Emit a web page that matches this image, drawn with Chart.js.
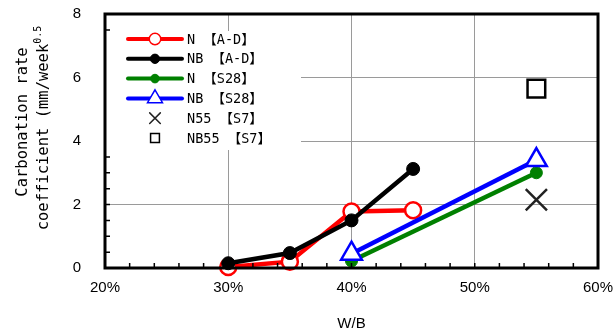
<!DOCTYPE html>
<html>
<head>
<meta charset="utf-8">
<script src="https://cdn.jsdelivr.net/npm/chart.js@4/dist/chart.umd.min.js"></script>
<style>
html, body { margin: 0; padding: 0; background: #fff; }
#wrap { width: 614px; height: 334px; }
</style>
</head>
<body>
<div id="wrap"><canvas id="c" width="614" height="334"></canvas></div>
<script>
// W/B (%) and carbonation rate coefficient values
var wbAD = [30, 35, 40, 45];
var nAD = [0.03, 0.2, 1.78, 1.82];
var nbAD = [0.15, 0.47, 1.5, 3.12];
var wbS28 = [40, 55];
var nS28 = [0.22, 3.0];
var nbS28 = [0.45, 3.4];
var wbS7 = [55];
var n55S7 = [2.15];
var nb55S7 = [5.65];

var xTicks = [20, 30, 40, 50, 60];
var yTicks = [0, 2, 4, 6, 8];

var FONT = '"DejaVu Sans Mono", "Noto Sans CJK JP", monospace';

function pts(xs, ys)
{
    return xs.map(function (x, i) { return { x: x, y: ys[i] }; });
}

function series(label, xs, ys, color, style, radius, fill, line, order)
{
    return {
        label: label,
        data: pts(xs, ys),
        showLine: line,
        borderColor: color,
        borderWidth: 4.5,
        pointStyle: style,
        pointRadius: radius,
        pointHoverRadius: radius,
        pointBorderWidth: fill ? 1 : 2.5,
        pointBorderColor: color,
        pointBackgroundColor: fill ? color : '#fff',
        clip: false,
        order: order
    };
}

var datasets = [
    series('N 【A-D】', wbAD, nAD, '#ff0000', 'circle', 8, false, true, 6),
    series('NB 【A-D】', wbAD, nbAD, '#000000', 'circle', 6.5, true, true, 5),
    series('N 【S28】', wbS28, nS28, '#008000', 'circle', 6, true, true, 4),
    series('NB 【S28】', wbS28, nbS28, '#0000ff', 'triangle', 12, false, true, 3),
    series('N55 【S7】', wbS7, n55S7, '#222222', 'crossRot', 15, false, false, 2),
    series('NB55 【S7】', wbS7, nb55S7, '#000000', 'rect', 12.5, false, false, 1)
];

var frame = {
    id: 'frame',
    afterDatasetsDraw: function (chart)
    {
        var ctx = chart.ctx, a = chart.chartArea;
        var sx = chart.scales.x, sy = chart.scales.y;

        // inward minor ticks
        ctx.save();
        ctx.strokeStyle = '#000';
        ctx.lineWidth = 1.5;
        ctx.beginPath();
        sx.ticks.forEach(function (t)
        {
            var px = sx.getPixelForValue(t.value);
            ctx.moveTo(px, a.bottom);
            ctx.lineTo(px, a.bottom - 5);
        });
        sy.ticks.forEach(function (t)
        {
            var py = sy.getPixelForValue(t.value);
            ctx.moveTo(a.left, py);
            ctx.lineTo(a.left + 5, py);
        });
        ctx.stroke();

        // legend box
        ctx.fillStyle = '#fff';
        ctx.fillRect(a.left + 1, 31, 195, 119);
        ctx.font = '13.5px ' + FONT;
        ctx.textBaseline = 'middle';
        ctx.textAlign = 'left';
        chart.data.datasets.forEach(function (d, i)
        {
            var y = 39 + i * 19.8;
            if (d.showLine)
            {
                ctx.strokeStyle = d.borderColor;
                ctx.lineWidth = 4;
                ctx.lineCap = 'round';
                ctx.beginPath();
                ctx.moveTo(128, y);
                ctx.lineTo(182, y);
                ctx.stroke();
            }
            ctx.fillStyle = d.pointBackgroundColor;
            ctx.strokeStyle = d.pointBorderColor;
            ctx.lineWidth = d.pointBorderWidth > 1 ? 1.5 : 1;
            Chart.helpers.drawPoint(ctx, {
                pointStyle: d.pointStyle,
                radius: d.pointRadius * (d.showLine ? 0.72 : 0.5),
                rotation: 0,
                borderWidth: ctx.lineWidth
            }, 155, y);
            ctx.fillStyle = '#000';
            ctx.fillText(d.label, 187, y + 1);
        });

        // y axis title
        ctx.font = '15.5px ' + FONT;
        ctx.textAlign = 'center';
        ctx.save();
        ctx.translate(23, 122);
        ctx.rotate(-Math.PI / 2);
        ctx.fillText('Carbonation rate', 0, 0);
        ctx.restore();

        var main = 'coefficient (mm/week', sup = '0.5';
        var w1 = ctx.measureText(main).width;
        ctx.font = '10px ' + FONT;
        var w2 = ctx.measureText(sup).width;
        ctx.save();
        ctx.translate(44, 128);
        ctx.rotate(-Math.PI / 2);
        ctx.textAlign = 'left';
        ctx.font = '15.5px ' + FONT;
        ctx.fillText(main, -(w1 + w2) / 2, 0);
        ctx.font = '10px ' + FONT;
        ctx.fillText(sup, -(w1 + w2) / 2 + w1, -6);
        ctx.restore();
        ctx.restore();
    },
    afterDraw: function (chart)
    {
        var ctx = chart.ctx, a = chart.chartArea;
        ctx.save();
        ctx.strokeStyle = '#000';
        ctx.lineWidth = 3;
        ctx.strokeRect(a.left, a.top, a.right - a.left, a.bottom - a.top);
        ctx.restore();
    }
};

new Chart(document.getElementById('c'), {
    type: 'scatter',
    data: { datasets: datasets },
    plugins: [frame],
    options: {
        responsive: false,
        animation: false,
        events: [],
        layout: { autoPadding: false, padding: { top: 14, right: 16, left: 0, bottom: 0 } },
        plugins: { legend: { display: false }, tooltip: { enabled: false } },
        scales: {
            x: {
                type: 'linear',
                min: 20,
                max: 60,
                afterFit: function (s) { s.height = 66; s.paddingLeft = 0; s.paddingRight = 0; },
                afterBuildTicks: function (s)
                {
                    var t = [];
                    for (var v = 20; v <= 60; v += 2) t.push({ value: v });
                    s.ticks = t;
                },
                ticks: {
                    autoSkip: false,
                    maxRotation: 0,
                    padding: 11,
                    color: '#000',
                    font: { size: 15 },
                    callback: function (v) { return xTicks.indexOf(v) >= 0 ? v + '%' : ''; }
                },
                grid: {
                    drawTicks: false,
                    lineWidth: 1,
                    color: function (c)
                    {
                        var v = c.tick && c.tick.value;
                        return v % 10 === 0 && v > 20 && v < 60 ? '#9a9a9a' : 'rgba(0,0,0,0)';
                    }
                },
                border: { display: false },
                title: { display: true, text: 'W/B', color: '#000', font: { size: 15 }, padding: { top: 6, bottom: 1 } }
            },
            y: {
                min: 0,
                max: 8,
                afterFit: function (s) { s.width = 105; s.paddingTop = 0; s.paddingBottom = 0; },
                afterBuildTicks: function (s)
                {
                    var t = [];
                    for (var v = 0; v <= 8; v += 0.5) t.push({ value: v });
                    s.ticks = t;
                },
                ticks: {
                    autoSkip: false,
                    padding: 24,
                    color: '#000',
                    font: { size: 15 },
                    callback: function (v) { return yTicks.indexOf(v) >= 0 ? String(v) : ''; }
                },
                grid: {
                    drawTicks: false,
                    lineWidth: 1,
                    color: function (c)
                    {
                        var v = c.tick && c.tick.value;
                        return v % 2 === 0 && v > 0 && v < 8 ? '#9a9a9a' : 'rgba(0,0,0,0)';
                    }
                },
                border: { display: false }
            }
        }
    }
});
</script>
</body>
</html>
